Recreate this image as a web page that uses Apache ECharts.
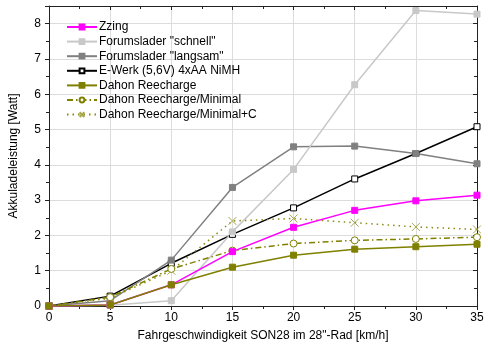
<!DOCTYPE html>
<html>
<head>
<meta charset="utf-8">
<script src="https://cdn.jsdelivr.net/npm/echarts@6/dist/echarts.min.js"></script>
<style>html,body{margin:0;padding:0;background:#fff}#c{width:488px;height:352px}</style>
</head>
<body>
<div id="c"></div>
<script>
const speeds = [0, 5, 10, 15, 20, 25, 30, 35];
const zzing = [0, 0.03, 0.6, 1.54, 2.23, 2.71, 2.98, 3.14];
const forumSchnell = [0, 0.02, 0.15, 2.1, 3.87, 6.27, 8.37, 8.27];
const forumLangsam = [0, 0.15, 1.3, 3.36, 4.51, 4.53, 4.32, 4.03];
const eWerk = [0, 0.28, 1.21, 2.03, 2.78, 3.6, 4.32, 5.08];
const dahon = [0, 0.03, 0.6, 1.1, 1.44, 1.61, 1.68, 1.75];
const dahonMinimal = [0, 0.25, 1.05, 1.57, 1.77, 1.86, 1.9, 1.95];
const dahonMinimalC = [0, 0.22, 1.0, 2.41, 2.48, 2.36, 2.24, 2.17];
const names = ['Zzing', 'Forumslader "schnell"', 'Forumslader "langsam"', 'E-Werk (5,6V) 4xAA NiMH', 'Dahon Reecharge', 'Dahon Reecharge/Minimal', 'Dahon Reecharge/Minimal+C'];

function pairs(arr) { return speeds.map((s, i) => [s, arr[i]]); }

const font = 'Liberation Sans, Arial, sans-serif';
function mk(name, data, color, symbol, fill, lineType, size, border) {
  return {
    name: name, type: 'line', xAxisIndex: 0, yAxisIndex: 0,
    data: pairs(data), symbol: symbol, symbolSize: size || 6,
    lineStyle: { color: color, width: 1.5, type: lineType || 'solid' },
    itemStyle: { color: fill, borderColor: border || color, borderWidth: 1 },
    emphasis: { disabled: true }, animation: false
  };
}
const series = [
  mk(names[3], eWerk, '#000000', 'rect', '#ffffff', 'solid'),
  mk(names[2], forumLangsam, '#808080', 'rect', '#808080', 'solid'),
  mk(names[1], forumSchnell, '#c8c8c8', 'rect', '#c8c8c8', 'solid'),
  mk(names[6], dahonMinimalC, '#8a8a10', 'path://M0,0L10,10M10,0L0,10', 'none', [1.5, 4], 8, '#a8a850'),
  mk(names[5], dahonMinimal, '#808000', 'circle', '#ffffff', [6, 3, 1.5, 3], 7),
  mk(names[0], zzing, '#ff00ff', 'rect', '#ff00ff', 'solid'),
  mk(names[4], dahon, '#808000', 'rect', '#808000', 'solid')
];
series[3].symbolKeepAspect = true;

const chart = echarts.init(document.getElementById('c'), null, { renderer: 'canvas' });
chart.setOption({
  animation: false,
  grid: { left: 48, right: 11, top: 6, bottom: 46 },
  legend: {
    data: names, left: 61, top: 16, orient: 'vertical',
    itemWidth: 30, itemHeight: 6, itemGap: 2.6,
    textStyle: { fontFamily: font, fontSize: 12, color: '#000', padding: [0, 0, 0, -3] }
  },
  xAxis: [{
    type: 'value', min: 0, max: 35, interval: 5, position: 'bottom',
    name: 'Fahrgeschwindigkeit SON28 im 28"-Rad [km/h]', nameLocation: 'middle', nameGap: 24,
    nameTextStyle: { fontFamily: font, fontSize: 12, color: '#000' },
    axisLine: { show: true, onZero: false, lineStyle: { color: '#222', width: 1 } },
    axisTick: { show: true, inside: false, length: 4, lineStyle: { color: '#222' } },
    minorTick: { show: true, splitNumber: 2, length: 3, lineStyle: { color: '#222' } },
    axisLabel: { fontFamily: font, fontSize: 12, color: '#000', margin: 6 },
    splitLine: { show: true, lineStyle: { color: '#dcdcdc', width: 1 } }
  }, {
    type: 'value', min: 0, max: 35, interval: 5, position: 'top',
    axisLine: { show: true, onZero: false, lineStyle: { color: '#222', width: 1 } },
    axisTick: { show: true, inside: true, length: 4, lineStyle: { color: '#222' } },
    minorTick: { show: true, splitNumber: 2, length: 3, lineStyle: { color: '#222' } },
    axisLabel: { show: false }, splitLine: { show: false }
  }],
  yAxis: [{
    type: 'value', min: 0, max: 8.5, interval: 1, position: 'left',
    name: 'Akkuladeleistung [Watt]', nameLocation: 'middle', nameGap: 29,
    nameTextStyle: { fontFamily: font, fontSize: 12, color: '#000' },
    axisLine: { show: true, onZero: false, lineStyle: { color: '#222', width: 1 } },
    axisTick: { show: true, inside: false, length: 4, lineStyle: { color: '#222' } },
    minorTick: { show: true, splitNumber: 2, length: 3, lineStyle: { color: '#222' } },
    axisLabel: { fontFamily: font, fontSize: 12, color: '#000', margin: 8, showMaxLabel: false },
    splitLine: { show: true, lineStyle: { color: '#dcdcdc', width: 1 } }
  }, {
    type: 'value', min: 0, max: 8.5, interval: 1, position: 'right',
    axisLine: { show: true, onZero: false, lineStyle: { color: '#222', width: 1 } },
    axisTick: { show: true, inside: true, length: 4, lineStyle: { color: '#222' } },
    minorTick: { show: true, splitNumber: 2, length: 3, lineStyle: { color: '#222' } },
    axisLabel: { show: false }, splitLine: { show: false }
  }],
  series: series
});
</script>
</body>
</html>
